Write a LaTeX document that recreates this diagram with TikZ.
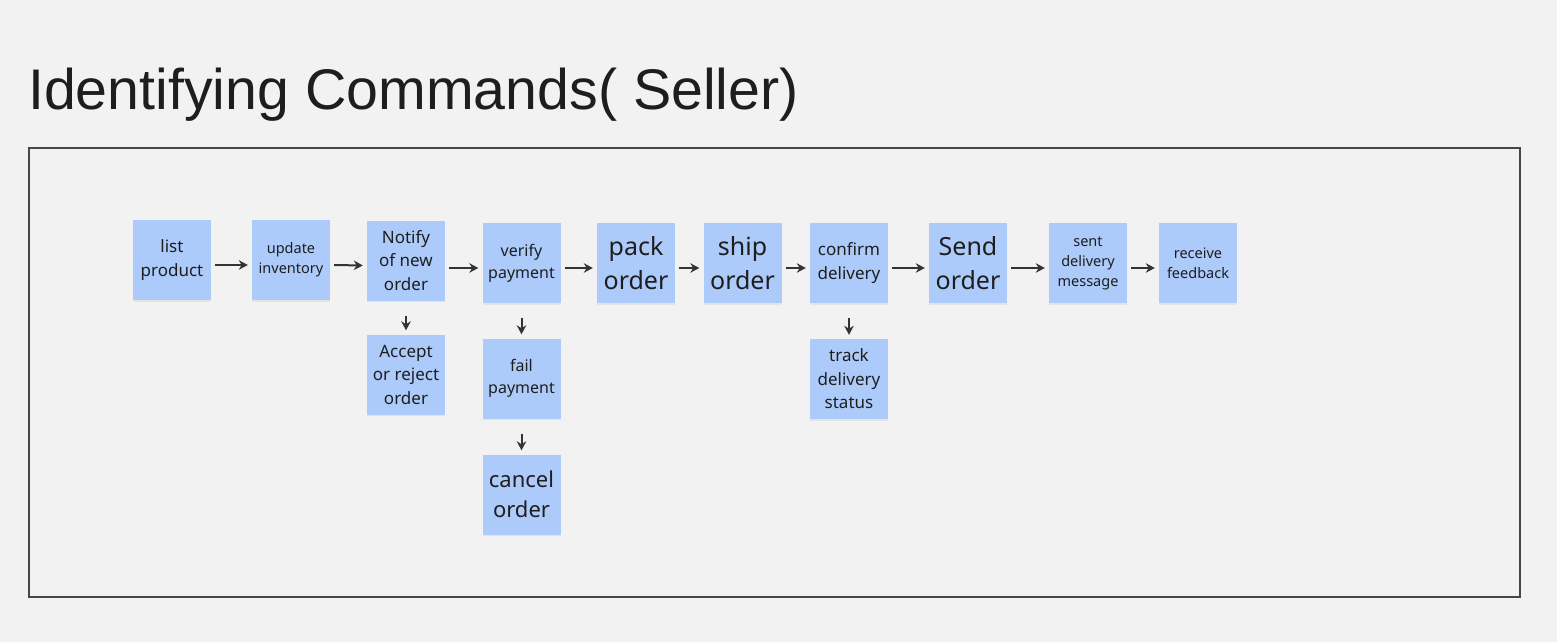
\documentclass[tikz,border=0pt]{standalone}
\usepackage{fontspec}
\setmainfont{Noto Sans}
\newfontfamily\titlefont{Liberation Sans}
\usetikzlibrary{arrows.meta,shadows}
\definecolor{stickyblue}{HTML}{ADCBFA}
\definecolor{inkgray}{HTML}{333333}
\definecolor{paper}{HTML}{F2F2F2}
\definecolor{notetext}{HTML}{1E1E1E}
\tikzset{
	sticky/.style={fill=stickyblue, minimum width=78pt, minimum height=80pt, inner sep=0pt,
		align=center, text=notetext,
		drop shadow={shadow xshift=0pt, shadow yshift=-1.5pt, opacity=0.12}},
	bignote/.style={sticky, font=\fontsize{25}{34}\selectfont},
	cancelnote/.style={sticky, font=\fontsize{22}{30}\selectfont},
	midnote/.style={sticky, font=\fontsize{17}{23.5}\selectfont},
	paynote/.style={sticky, font=\fontsize{16}{22}\selectfont},
	smallnote/.style={sticky, font=\fontsize{14.5}{20}\selectfont},
	flow/.style={draw=inkgray, line width=2pt, -{Stealth[length=9pt,width=9.5pt]},
		shorten <=4pt, shorten >=4pt},
	drop/.style={flow, shorten <=15pt},
}
\begin{document}
\begin{tikzpicture}[x=1pt,y=-1pt]
	% page background
	\fill[paper] (0,0) rectangle (1557,642);
	\useasboundingbox (0,0) rectangle (1557,642);
	% title
	\node[anchor=base west, inner sep=0pt, text=notetext] (title) at (28,109)
		{\titlefont\fontsize{57.3}{68}\selectfont Identifying Commands( Seller)};
	% frame
	\draw[line width=1.6pt, draw=black!72] (29,148) rectangle (1520,597);
	% main row
	\node[midnote]   (list)    at (172,260)   {list\\product};
	\node[smallnote] (update)  at (291,260)   {update\\inventory};
	\node[midnote]   (notify)  at (406,260.5) {Notify\\of new\\order};
	\node[paynote]   (verify)  at (521.5,263) {verify\\payment};
	\node[bignote]   (pack)    at (636,263)   {pack\\order};
	\node[bignote]   (ship)    at (742.5,263) {ship\\order};
	\node[midnote]   (confirm) at (849,263)   {confirm\\delivery};
	\node[bignote]   (send)    at (968,263)   {Send\\order};
	\node[smallnote] (sent)    at (1088,263)  {sent\\delivery\\message};
	\node[smallnote] (receive) at (1198,263)  {receive\\feedback};
	% side branches
	\node[midnote]    (accept) at (406,374.5) {Accept\\or reject\\order};
	\node[paynote]    (fail)   at (521.5,378.5) {fail\\payment};
	\node[cancelnote] (cancel) at (521.5,494.5) {cancel\\order};
	\node[midnote]    (track)  at (849,379)   {track\\delivery\\status};
	% arrows along the row
	\draw[flow] ([yshift=-5pt]list.east)    -- ([yshift=-5pt]update.west);
	\draw[flow] ([yshift=-5pt]update.east)  -- ([yshift=-5pt]notify.west);
	\draw[flow] ([yshift=-5pt]notify.east |- verify.west) -- ([yshift=-5pt]verify.west);
	\draw[flow] ([yshift=-5pt]verify.east)  -- ([yshift=-5pt]pack.west);
	\draw[flow] ([yshift=-5pt]pack.east)    -- ([yshift=-5pt]ship.west);
	\draw[flow] ([yshift=-5pt]ship.east)    -- ([yshift=-5pt]confirm.west);
	\draw[flow] ([yshift=-5pt]confirm.east) -- ([yshift=-5pt]send.west);
	\draw[flow] ([yshift=-5pt]send.east)    -- ([yshift=-5pt]sent.west);
	\draw[flow] ([yshift=-5pt]sent.east)    -- ([yshift=-5pt]receive.west);
	% arrows down
	\draw[drop] (notify.south)  -- (accept.north);
	\draw[drop] (verify.south)  -- (fail.north);
	\draw[drop] (fail.south)    -- (cancel.north);
	\draw[drop] (confirm.south) -- (track.north);
\end{tikzpicture}
\end{document}
